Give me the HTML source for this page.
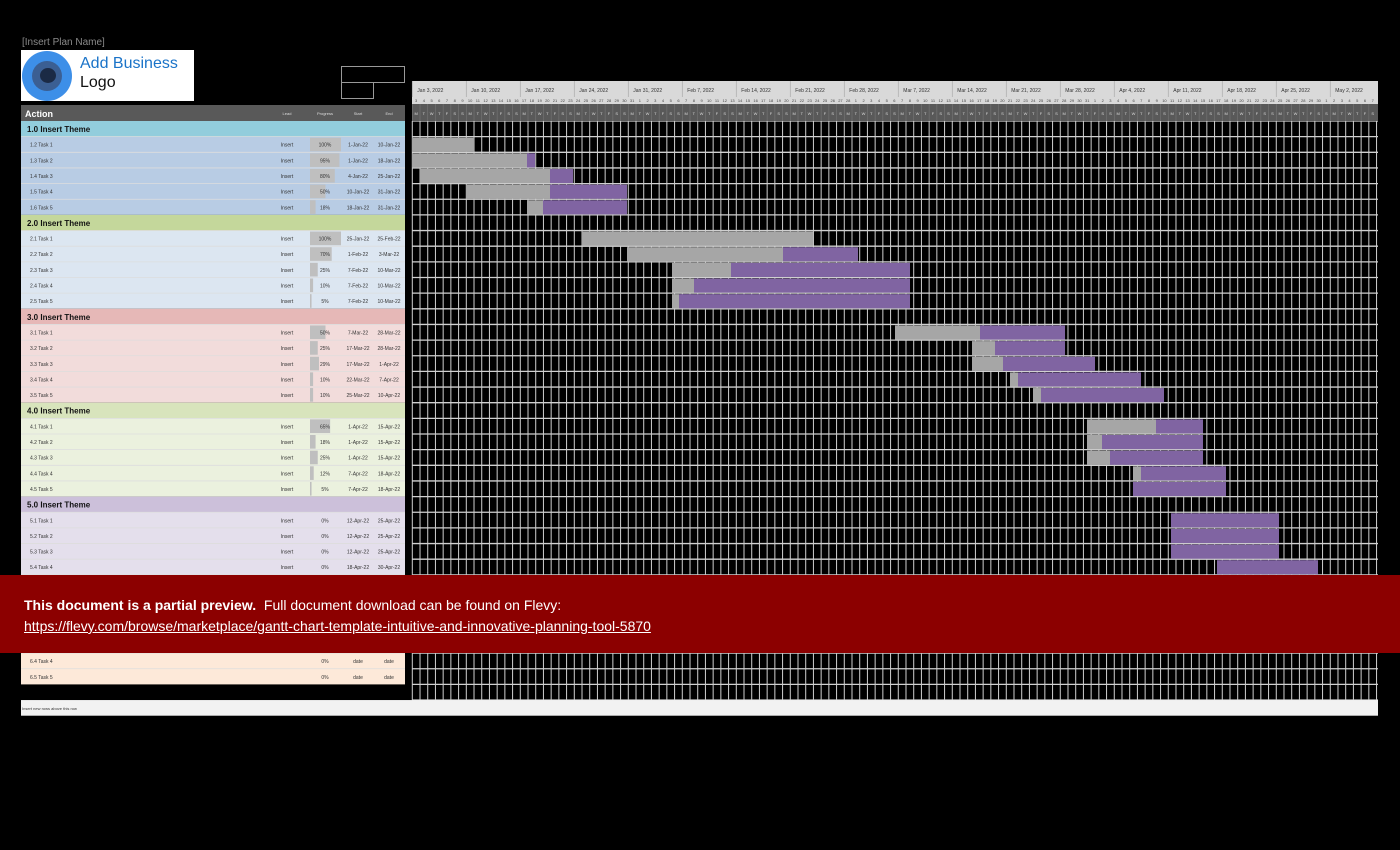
<!DOCTYPE html>
<html><head><meta charset="utf-8"><style>
body{margin:0;background:#000;width:1400px;height:850px;overflow:hidden;position:relative;font-family:"Liberation Sans",sans-serif}
.abs{position:absolute}
</style></head><body>
<div class="abs" style="left:22px;top:37px;color:#8a8a8a;font-size:10px">[Insert Plan Name]</div>
<div class="abs" style="left:21px;top:50px;width:173px;height:51px;background:#fff">
 <div class="abs" style="left:1px;top:1px;width:50px;height:50px;border-radius:50%;background:#3d8fe8"></div>
 <div class="abs" style="left:11px;top:11px;width:30px;height:30px;border-radius:50%;background:#3b5f93"></div>
 <div class="abs" style="left:19px;top:18px;width:16px;height:15px;border-radius:50%;background:#1b2a45"></div>
 <div class="abs" style="left:59px;top:5px;font-size:16px;color:#1a73c8;line-height:18px">Add Business</div>
 <div class="abs" style="left:59px;top:24px;font-size:16px;color:#111;line-height:18px">Logo</div>
</div>
<div class="abs" style="left:341px;top:66px;width:62px;height:15px;border:1px solid #999"></div>
<div class="abs" style="left:341px;top:82px;width:31px;height:15px;border:1px solid #999"></div>
<svg id="s" class="abs" style="left:0;top:0" width="1400" height="850"></svg>
<div class="abs" style="left:0;top:575px;width:1400px;height:78px;background:#8c0000;color:#fff;font-size:14px">
 <div class="abs" style="left:24px;top:22px"><b>This document is a partial preview.</b>&nbsp; Full document download can be found on Flevy:</div>
 <div class="abs" style="left:24px;top:43px;text-decoration:underline">https://flevy.com/browse/marketplace/gantt-chart-template-intuitive-and-innovative-planning-tool-5870</div>
</div>
<script>
var s=document.getElementById('s'),h='';
function r(x,y,w,hh,f){h+='<rect x="'+x+'" y="'+y+'" width="'+w+'" height="'+hh+'" fill="'+f+'"/>';}
function t(x,y,txt,sz,f,w,a){h+='<text x="'+x+'" y="'+y+'" font-size="'+sz+'" fill="'+f+'"'+(w?' font-weight="bold"':'')+(a?' text-anchor="'+a+'"':'')+'>'+txt+'</text>';}
var G0=412.3,D=7.714,GE=1378,RH=15.65,T0=121;
r(412,81,966,24,'#d9d9d9');r(412,104,966,17,'#595959');
var wk=['Jan 3, 2022','Jan 10, 2022','Jan 17, 2022','Jan 24, 2022','Jan 31, 2022','Feb 7, 2022','Feb 14, 2022','Feb 21, 2022','Feb 28, 2022','Mar 7, 2022','Mar 14, 2022','Mar 21, 2022','Mar 28, 2022','Apr 4, 2022','Apr 11, 2022','Apr 18, 2022','Apr 25, 2022','May 2, 2022'];
var mdays=[31,28,31,30,31],dl='MTWTFSS';
var m=0,d=3;
for(var k=0;k<125;k++){var x=G0+k*D;
 if(k%7==0){t(x+5,92,wk[k/7],5,'#333');h+='<line x1="'+x+'" y1="81" x2="'+x+'" y2="97" stroke="#aaa" stroke-width="0.7"/>';}
 t(x+D/2,102,d,4,'#444',0,'middle');t(x+D/2,115,dl[k%7],4,'#ddd',0,'middle');
 h+='<line x1="'+x+'" y1="104" x2="'+x+'" y2="121" stroke="#777" stroke-width="0.6"/>';
 d++;if(d>mdays[m]){d=1;m++;}}
r(21,105,384,16,'#595959');
t(25,117,'Action',9,'#fff',1);t(287,115,'Lead',4,'#ddd',0,'middle');t(325,115,'Progress',4,'#ddd',0,'middle');t(358,115,'Start',4,'#ddd',0,'middle');t(389,115,'End',4,'#ddd',0,'middle');
var th=[['#92cddc','#b8cce4'],['#c4d79b','#dce6f1'],['#e6b8b7','#f2dcdb'],['#d8e4bc','#ebf1de'],['#ccc0da','#e4dfec'],['#fcd5b4','#fde9d9']];
var tasks=[
[['1.2 Task 1','100%','1-Jan-22','10-Jan-22'],['1.3 Task 2','95%','1-Jan-22','18-Jan-22'],['1.4 Task 3','80%','4-Jan-22','25-Jan-22'],['1.5 Task 4','50%','10-Jan-22','31-Jan-22'],['1.6 Task 5','18%','18-Jan-22','31-Jan-22']],
[['2.1 Task 1','100%','25-Jan-22','25-Feb-22'],['2.2 Task 2','70%','1-Feb-22','3-Mar-22'],['2.3 Task 3','25%','7-Feb-22','10-Mar-22'],['2.4 Task 4','10%','7-Feb-22','10-Mar-22'],['2.5 Task 5','5%','7-Feb-22','10-Mar-22']],
[['3.1 Task 1','50%','7-Mar-22','28-Mar-22'],['3.2 Task 2','25%','17-Mar-22','28-Mar-22'],['3.3 Task 3','29%','17-Mar-22','1-Apr-22'],['3.4 Task 4','10%','22-Mar-22','7-Apr-22'],['3.5 Task 5','10%','25-Mar-22','10-Apr-22']],
[['4.1 Task 1','65%','1-Apr-22','15-Apr-22'],['4.2 Task 2','18%','1-Apr-22','15-Apr-22'],['4.3 Task 3','25%','1-Apr-22','15-Apr-22'],['4.4 Task 4','12%','7-Apr-22','18-Apr-22'],['4.5 Task 5','5%','7-Apr-22','18-Apr-22']],
[['5.1 Task 1','0%','12-Apr-22','25-Apr-22'],['5.2 Task 2','0%','12-Apr-22','25-Apr-22'],['5.3 Task 3','0%','12-Apr-22','25-Apr-22'],['5.4 Task 4','0%','18-Apr-22','30-Apr-22'],['5.5 Task 5','0%','date','date']],
[['6.1 Task 1','0%','date','date'],['6.2 Task 2','0%','date','date'],['6.3 Task 3','0%','date','date'],['6.4 Task 4','0%','date','date'],['6.5 Task 5','0%','date','date']]];
var bars=[[412,474,474],[412,527,535],[420,550,573],[466,550,627],[527,543,627],
[582,813,813],[627,783,858],[672,731,910],[672,694,910],[672,679,910],
[895,980,1065],[972,995,1065],[972,1003,1095],[1010,1018,1141],[1033,1041,1164],
[1087,1156,1203],[1087,1102,1203],[1087,1110,1203],[1133,1141,1226],[1133,1133,1226],
[1171,1171,1279],[1171,1171,1279],[1171,1171,1279],[1217,1217,1318]];
var bi=0;
for(var g=0;g<6;g++){var y=T0+g*6*RH;
 r(21,y,384,RH,th[g][0]);t(27,y+11,(g+1)+'.0 Insert Theme',8,'#111',1);
 for(var j=0;j<5;j++){var yy=y+(j+1)*RH;r(21,yy,384,RH,th[g][1]);
  h+='<line x1="21" y1="'+yy+'" x2="405" y2="'+yy+'" stroke="#ddd" stroke-width="0.8"/>';
  var a=tasks[g][j];t(30,yy+10,a[0],5,'#333');t(287,yy+10,g<5?'Insert':'',5,'#333',0,'middle');
  var p=parseInt(a[1]);r(310,yy+1,31*p/100,RH-2,'#bfbfbf');
  t(325,yy+10,a[1],5,'#333',0,'middle');t(358,yy+10,a[2],5,'#333',0,'middle');t(389,yy+10,a[3],5,'#333',0,'middle');
  if(bi<bars.length&&g<5){var b=bars[bi++];r(b[0],yy+1,b[1]-b[0],RH-1.5,'#a6a6a6');if(b[2]>b[1])r(b[1],yy+1,b[2]-b[1],RH-1.5,'#8064a2');}
 }}
var gl='';
for(var k=0;k<=125;k++){var x=G0+k*D;if(x>1379)break;gl+='<line x1="'+x+'" y1="'+T0+'" x2="'+x+'" y2="'+(T0+37*RH)+'" stroke="#d0d0d0" stroke-width="1"/>';}
for(var i=0;i<=37;i++){var y=T0+i*RH;gl+='<line x1="412" y1="'+y+'" x2="1378" y2="'+y+'" stroke="#d0d0d0" stroke-width="1.3"/>';}
var y=T0+37*RH;
var ins='<rect x="21" y="'+y+'" width="1357" height="'+RH+'" fill="#f2f2f2"/><text x="22" y="'+(y+10)+'" font-size="4" fill="#333">Insert new rows above this row</text>';
s.innerHTML=gl+h+ins;
</script>
</body></html>
